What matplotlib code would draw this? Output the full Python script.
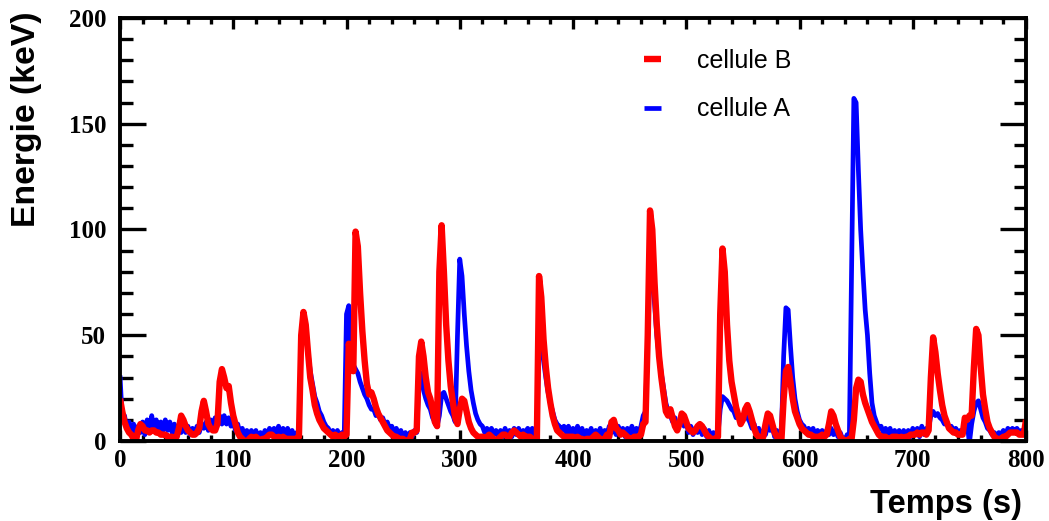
import matplotlib
matplotlib.use("Agg")
import matplotlib.pyplot as plt
from matplotlib.ticker import MultipleLocator
import numpy as np

# ---- data (one value every 2 s from 0 to 800 s) ----
time_step = 2
energy_B = [  # cellule B (red)
    20, 14, 9, 6, 4, 3, 1, 0, 5, 8,
    7, 5, 5, 4, 5, 5, 4, 4, 3, 3,
    3, 2, 2, 2, 1, 2, 6, 12, 10, 7,
    5, 4, 3, 3, 4, 6, 14, 19, 14, 8,
    6, 5, 5, 8, 28, 34, 30, 25, 26, 18,
    12, 8, 4, 2, 1, 0, -1, 1, 2, 1,
    2, 1, 0, 1, 1, 2, 3, 3, 2, 1,
    2, 1, 2, 1, 1, 1, 1, 1, 1, 2,
    50, 61, 55, 42, 30, 24, 17, 13, 10, 8,
    6, 5, 4, 3, 2, 3, 2, 2, 3, 2,
    3, 46, 40, 33, 99, 92, 70, 52, 38, 27,
    22, 23, 20, 16, 13, 11, 9, 7, 5, 4,
    3, 2, 2, 1, 1, 1, 0, 0, 1, 4,
    4, 5, 40, 47, 40, 30, 23, 20, 15, 9,
    7, 80, 102, 80, 55, 38, 26, 18, 11, 8,
    15, 20, 19, 14, 9, 6, 4, 3, 2, 2,
    2, 1, 2, 3, 2, 1, 0, 1, 2, 3,
    3, 2, 2, 4, 5, 4, 3, 2, 3, 2,
    2, 2, 1, 0, -3, 78, 68, 48, 35, 25,
    18, 12, 8, 5, 4, 3, 2, 2, 2, 2,
    2, 1, 2, 1, 1, 0, 1, 1, 1, 2,
    3, 2, 1, 0, 1, 3, 2, 9, 10, 6,
    5, 3, 4, 3, 2, 1, 1, 2, 2, 2,
    3, 8, 9, 50, 109, 100, 75, 55, 40, 30,
    22, 14, 12, 15, 11, 7, 5, 8, 13, 12,
    9, 6, 5, 4, 5, 7, 8, 7, 5, 3,
    2, 1, 1, 1, 2, 60, 91, 80, 55, 38,
    28, 22, 16, 12, 8, 10, 15, 17, 14, 10,
    6, 3, 2, 0, 2, 8, 13, 12, 8, 4,
    2, 1, 0, 20, 33, 35, 28, 20, 14, 11,
    8, 6, 5, 4, 3, 3, 2, 2, 2, 2,
    3, 2, 3, 8, 14, 12, 8, 5, 2, 1,
    0, 0, 1, 1, 10, 25, 29, 28, 22, 18,
    15, 12, 9, 7, 5, 3, 2, 2, 2, 1,
    1, 2, 2, 2, 1, 2, 1, 2, 2, 3,
    3, 3, 4, 3, 4, 4, 3, 5, 30, 49,
    42, 32, 24, 17, 12, 9, 6, 5, 4, 4,
    3, 3, 3, 11, 10, 12, 12, 35, 53, 50,
    35, 22, 15, 9, 6, 4, 2, 1, 1, 1,
    2, 2, 3, 4, 4, 4, 4, 3, 3, 3,
    10,
]
energy_A = [  # cellule A (blue)
    31, 10, 12, 6, 9, 4, 8, 3, 7, 4,
    9, 3, 10, 5, 12, 6, 10, 4, 9, 5,
    10, 5, 9, 4, 8, 3, 7, 4, 8, 4,
    7, 3, 6, 3, 7, 4, 8, 6, 9, 5,
    10, 6, 11, 8, 12, 8, 12, 8, 11, 7,
    9, 5, 8, 3, 6, 2, 5, 1, 5, 2,
    5, 1, 4, 2, 5, 2, 6, 3, 6, 3,
    7, 3, 6, 2, 6, 3, 5, 2, 4, 3,
    45, 58, 52, 42, 33, 27, 21, 18, 14, 12,
    9, 7, 6, 3, 5, 2, 5, 2, 4, 3,
    60, 64, 42, 36, 34, 32, 28, 25, 22, 20,
    17, 15, 15, 12, 13, 10, 11, 8, 9, 6,
    7, 4, 6, 3, 5, 2, 4, 1, 4, 2,
    5, 4, 28, 32, 24, 20, 17, 15, 11, 9,
    7, 12, 22, 23, 20, 17, 14, 12, 9, 50,
    86, 78, 60, 45, 33, 24, 18, 13, 10, 8,
    7, 4, 6, 3, 6, 3, 5, 2, 5, 2,
    6, 3, 5, 2, 6, 3, 6, 3, 5, 4,
    6, 3, 6, 2, 0, 50, 46, 38, 30, 23,
    18, 14, 10, 8, 7, 5, 7, 4, 7, 3,
    6, 3, 7, 3, 6, 2, 5, 3, 6, 2,
    5, 3, 6, 1, 5, 3, 7, 4, 6, 3,
    7, 3, 6, 2, 6, 3, 7, 3, 6, 4,
    7, 12, 14, 50, 85, 82, 65, 50, 40, 32,
    25, 18, 14, 12, 9, 11, 6, 9, 10, 7,
    9, 4, 7, 3, 6, 4, 7, 3, 6, 2,
    5, 1, 4, 2, 3, 15, 21, 20, 19, 17,
    15, 14, 11, 12, 8, 10, 12, 11, 9, 6,
    8, 3, 6, 1, 5, 3, 8, 5, 7, 2,
    5, 1, 3, 40, 63, 62, 45, 30, 20, 14,
    10, 8, 7, 4, 6, 3, 6, 2, 5, 3,
    5, 2, 5, 3, 6, 3, 5, 2, 4, 1,
    -1, 3, 1, 80, 162, 160, 128, 100, 80, 62,
    50, 32, 18, 12, 9, 6, 7, 4, 6, 3,
    6, 2, 5, 2, 5, 1, 5, 2, 5, 2,
    6, 3, 6, 2, 7, 3, 6, 6, 12, 14,
    12, 13, 11, 10, 8, 9, 6, 7, 5, 6,
    4, 5, 3, 8, 9, -1, 8, 14, 18, 19,
    15, 11, 9, 6, 5, 3, 4, 2, 4, 3,
    5, 3, 6, 4, 6, 5, 6, 4, 5, 4,
    8,
]
time_s = np.arange(len(energy_B)) * time_step

x_ticks = [0, 100, 200, 300, 400, 500, 600, 700, 800]
y_ticks = [0, 50, 100, 150, 200]

# ---- figure ----
W, H = 1049, 521
fig = plt.figure(figsize=(W / 100, H / 100), dpi=100)
ax = fig.add_axes([120 / W, 1 - 441 / H, (1026 - 120) / W, (441 - 18) / H])

lA, = ax.plot(time_s, energy_A, color="#0000ff", lw=3.4, solid_joinstyle="round",
              solid_capstyle="butt", label="cellule A", zorder=2)
lB, = ax.plot(time_s, energy_B, color="#ff0000", lw=4.6, solid_joinstyle="round",
              solid_capstyle="butt", label="cellule B", zorder=3)

ax.set_xlim(0, 800)
ax.set_ylim(0, 200)

for s in ax.spines.values():
    s.set_linewidth(2.8)
    s.set_zorder(5)

ax.xaxis.set_major_locator(MultipleLocator(100))
ax.xaxis.set_minor_locator(MultipleLocator(20))
ax.yaxis.set_major_locator(MultipleLocator(50))
ax.yaxis.set_minor_locator(MultipleLocator(10))
ax.tick_params(axis="x", which="major", direction="in", length=8, width=2.4,
               top=True, bottom=True, pad=6)
ax.tick_params(axis="x", which="minor", direction="in", length=4, width=2.4,
               top=True, bottom=True)
ax.tick_params(axis="y", which="major", direction="in", length=19, width=2.4,
               left=True, right=True, pad=10)
ax.tick_params(axis="y", which="minor", direction="in", length=9, width=2.4,
               left=True, right=True)
ax.set_xticks(x_ticks)
ax.set_yticks(y_ticks)
for lab in ax.get_xticklabels() + ax.get_yticklabels():
    lab.set_fontfamily("Liberation Serif")
    lab.set_fontweight("bold")
    lab.set_fontsize(18)

fig.text(27 / W, 1 - 119 / H, "Energie (keV)", rotation=90, ha="center", va="center",
         fontfamily="Liberation Sans", fontweight="bold", fontsize=24.3)
fig.text(1022 / W, 1 - 504 / H, "Temps (s)", ha="right", va="center",
         fontfamily="Liberation Sans", fontweight="bold", fontsize=23.5)

leg = ax.legend(handles=[lB, lA], loc="upper left",
                bbox_to_anchor=(644 / W, 1 - 49 / H), bbox_transform=fig.transFigure,
                frameon=False, fontsize=18, handlelength=0.68, handletextpad=1.45,
                labelspacing=0.98, borderpad=0, borderaxespad=0)
for t in leg.get_texts():
    t.set_fontfamily("Liberation Sans")

fig.savefig("out.png", dpi=100)
